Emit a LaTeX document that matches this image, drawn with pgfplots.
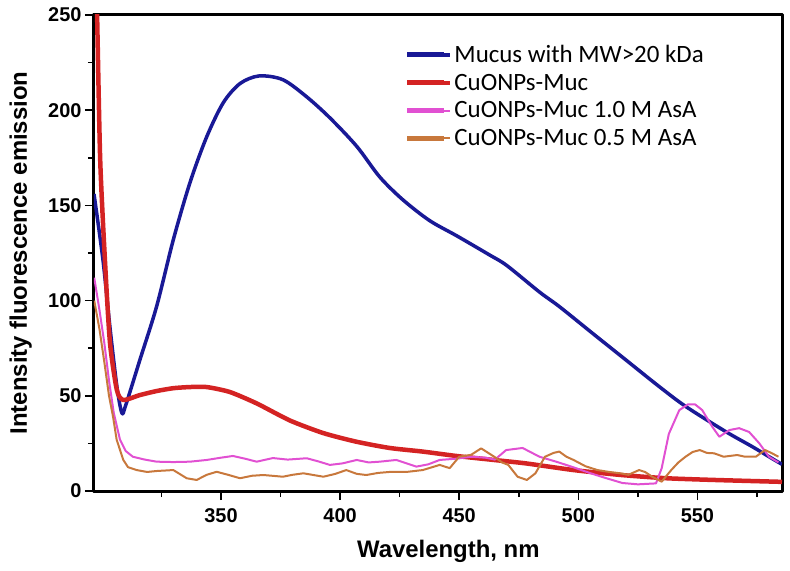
\documentclass[border=0pt]{standalone}
\usepackage{pgfplots}
\pgfplotsset{compat=1.18}
\usepackage{fontspec}
\setmainfont{Liberation Sans}
\newfontfamily\carlito{Carlito}
\usetikzlibrary{calc}

\definecolor{cmucus}{RGB}{25,25,150}
\definecolor{cmuc}{RGB}{212,35,35}
\definecolor{cone}{RGB}{225,80,210}
\definecolor{chalf}{RGB}{200,120,60}

\begin{document}
\begin{tikzpicture}
\begin{axis}[
    scale only axis,
    width=688bp, height=476bp,
    xmin=296.7, xmax=585.5,
    ymin=0, ymax=250,
    xtick={350,400,...,550},
    minor xtick={325,375,...,575},
    ytick={0,50,...,250},
    minor ytick={25,75,...,225},
    tick pos=left,
    tick align=outside,
    major tick length=9bp,
    minor tick length=6bp,
    every tick/.style={black, line width=1.5bp},
    axis line style={line width=3bp},
    /pgf/number format/assume math mode=true,
    ticklabel style={font=\bfseries\fontsize{20}{24}\selectfont},
    xticklabel style={yshift=-5bp},
    xlabel={Wavelength, nm},
    ylabel={Intensity fluorescence emission},
    label style={font=\bfseries\fontsize{24}{28}\selectfont},
    xlabel style={at={(axis description cs:0.515,-0.1387)}, anchor=base},
    ylabel style={at={(axis description cs:-0.0974,0.5)}, anchor=base},
    legend style={draw=none, fill=none, at={(0.447,0.945)}, anchor=north west,
      font=\carlito\fontsize{25}{30}\selectfont, row sep=6bp},
    legend cell align=left,
    legend image code/.code={\draw[#1, line width=5bp] (0bp,0bp) -- (37bp,0bp);
      \path (0bp,0bp) -- (43bp,0bp);},
    line join=round,
]
\addplot[cmucus, line width=3.5bp, smooth, tension=0.5] coordinates {
  (296.7,156) (300.5,121) (303.4,86) (306.3,55) (308.4,41) (310,45) (316,69)
  (323,97) (330,132) (337,162) (344,186) (351,204) (358,214) (366,218)
  (376,216) (386,207) (395.7,196) (407,181) (416.6,165) (426.3,153)
  (437.6,142) (449,134) (462.7,124) (469.9,118.5) (483.7,104.5)
  (492.1,96.8) (506,82.8) (520,68.8) (534,54.8) (545.2,44.3) (562,31.1)
  (573,23.3) (581.4,17) (585.5,14)
};
\addlegendentry{Mucus with MW>20 kDa}
\addplot[cmuc, line width=4.5bp, smooth, tension=0.4] coordinates {
  (296.8,320) (298,250) (299.3,174) (301.3,121) (303.4,78) (306.3,53)
  (309,47.8) (316,50.4) (323,52.5) (330,54) (337,54.6) (344,54.6)
  (353.7,52) (365,46) (379,37) (393,30.4) (406.8,25.9) (420.8,22.6)
  (434.7,20.7) (448.8,18.4) (463,16.5) (478,14.5) (498,11) (518,8.4)
  (537,6.7) (557,5.8) (585.5,4.8)
};
\addlegendentry{CuONPs-Muc}
\addplot[cone, line width=2bp] coordinates {
  (296.8,112) (299,95) (301,78) (303,58) (305,41) (307.6,27) (310,21)
  (313,18) (318,16.5) (323,15.4) (330,15.2) (337,15.4) (344,16.3)
  (350,17.5) (355,18.4) (360,17) (365,15.4) (371.8,17.3) (378,16.5)
  (386,17.2) (391,15.5) (395.7,13.7) (401,14.5) (407,16.3) (412,15)
  (416.6,15.4) (423.6,16.3) (432,12.8) (437,14) (441.8,16.3) (449,17)
  (455,18) (461,17.5) (465,16.5) (469.7,21.5) (476.6,22.6) (483.7,18)
  (490.7,15.4) (497.6,12.6) (504.7,9.5) (511,7) (518.5,4.2) (525,3.5)
  (532.6,4) (535,12) (538,30) (542.4,42.5) (546,45.5) (549,45.5)
  (552,42.5) (556.3,33.6) (559.2,28.5) (563.4,32) (567.5,33) (571.7,31)
  (576,25) (580,18) (584,15)
};
\addlegendentry{CuONPs-Muc 1.0 M AsA}
\addplot[chalf, line width=2bp] coordinates {
  (296.8,100) (299,85) (301,68) (303,50) (304.7,39) (306.2,27) (309,16.3)
  (311,12.5) (314.6,11) (319,10) (323,10.5) (330,11) (335.6,6.7)
  (339.8,5.8) (344,8.5) (348.2,10.1) (353,8.5) (358,6.7) (363,8)
  (367.8,8.4) (376,7.5) (380,8.5) (384.6,9.3) (393,7.5) (398,9)
  (402.6,11) (407,9) (411,8.4) (416,9.5) (420.8,10) (427.8,10)
  (434.7,11) (441.8,13.7) (446,12) (450,18) (455,19) (459.2,22.4)
  (464.7,18) (468,15) (470.6,13.7) (474.5,7.5) (478.4,5.8) (482,9.3)
  (486,18) (489.6,20) (492,20.7) (495,18) (498,16.3) (503,13) (508,11)
  (513,10) (517.6,9.3) (521,8.5) (525.5,11) (528,10) (531,7.5) (535,4.9)
  (539,11) (542,15) (545,18) (548,20.5) (551,21.5) (554,20) (557,19.8)
  (561,18) (566.7,18.9) (570,18) (574.5,18) (578.4,21.5) (581,20)
  (584,18)
};
\addlegendentry{CuONPs-Muc 0.5 M AsA}
\end{axis}
\pgfresetboundingbox
\path ($(current axis.south west)+(-94bp,-80bp)$) rectangle
      ($(current axis.north east)+(8bp,15bp)$);
\end{tikzpicture}
\end{document}
